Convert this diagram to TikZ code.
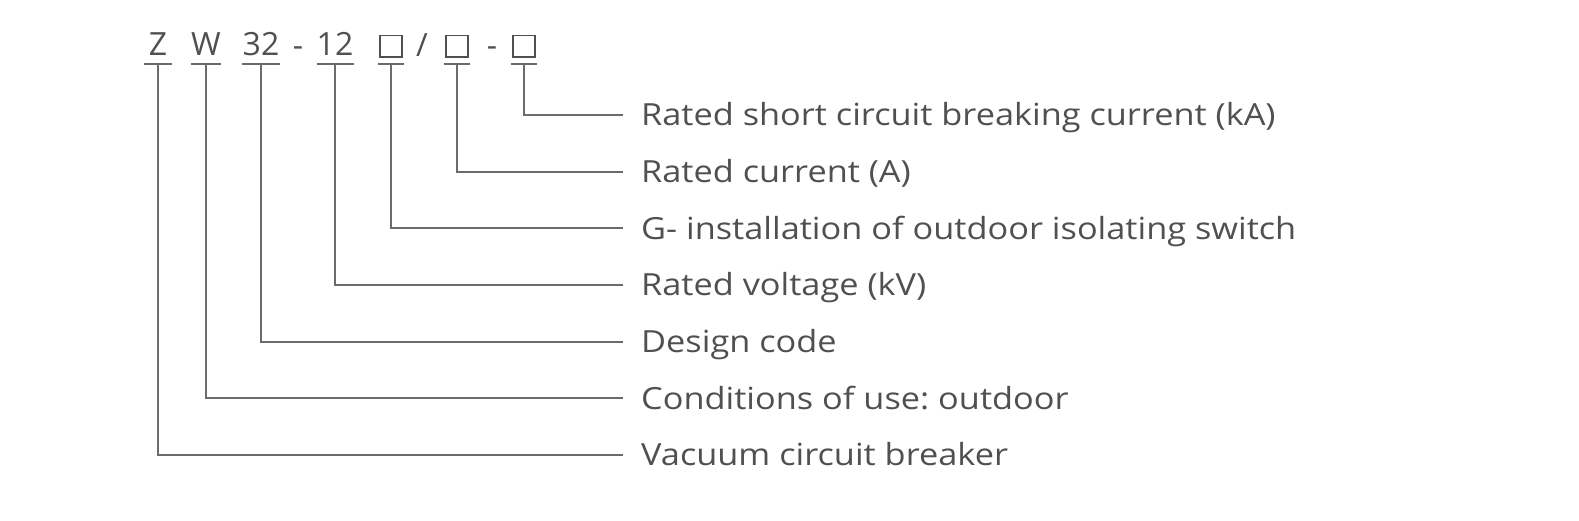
\documentclass[tikz,border=0pt]{standalone}
\usepackage{fontspec}
\setmainfont{Open Sans}
\newfontfamily\labelfont[FakeStretch=1.125]{Open Sans}
\usepackage{tikz}
\usetikzlibrary{positioning}
\definecolor{mtext}{HTML}{505050}
\definecolor{mline}{HTML}{6B6B6B}
\newcommand{\slotbox}{{\setlength{\fboxsep}{0pt}\setlength{\fboxrule}{1.8pt}\fbox{\rule{0pt}{19.5pt}\hspace{20.5pt}}}}
\tikzstyle{code} = [font=\fontsize{32}{32}\selectfont, text=mtext, text height=23pt, text depth=0pt, inner ysep=8pt, inner xsep=0pt, anchor=south]
\tikzstyle{sep} = [font=\fontsize{32}{32}\selectfont, text=mtext, inner sep=0pt, anchor=base]
\tikzstyle{meaning} = [font=\labelfont\fontsize{30.5}{31}\selectfont\frenchspacing, text=mtext, text height=21.7pt, text depth=0pt, inner ysep=0pt, inner xsep=18pt, anchor=west]
\tikzstyle{lead} = [draw=mline, line width=1.8pt]
\begin{document}
\begin{tikzpicture}[x=1pt, y=-1pt]
  \useasboundingbox (0,0) rectangle (1579,520);
  % model code
  \node (z) [code, minimum width=27pt] at (158,64) {Z};
  \node (w) [code, minimum width=26pt] at (206,64) {W};
  \node (n32) [code, minimum width=37pt] at (261,64) {32};
  \node (d1) [sep] at (298,56) {-};
  \node (n12) [code, minimum width=36pt] at (335,64) {12};
  \node (g) [code, minimum width=26pt] at (391,64) {\slotbox};
  \node (sl) [sep] at (422,56) {/};
  \node (a) [code, minimum width=26pt] at (457,64) {\slotbox};
  \node (d2) [sep] at (492,56) {-};
  \node (ka) [code, minimum width=26pt] at (524,64) {\slotbox};
  % meanings
  \node (lka) [meaning] at (623,115) {Rated short circuit breaking current (kA)};
  \node (la) [meaning] at (623,171.7) {Rated current (A)};
  \node (lg) [meaning] at (623,228.3) {G- installation of outdoor isolating switch};
  \node (l12) [meaning] at (623,285) {Rated voltage (kV)};
  \node (l32) [meaning] at (623,341.7) {Design code};
  \node (lw) [meaning] at (623,398.3) {Conditions of use: outdoor};
  \node (lz) [meaning] at (623,455) {Vacuum circuit breaker};
  % underlines
  \draw [lead] (z.south west) -- (z.south east);
  \draw [lead] (w.south west) -- (w.south east);
  \draw [lead] (n32.south west) -- (n32.south east);
  \draw [lead] (n12.south west) -- (n12.south east);
  \draw [lead] (g.south west) -- (g.south east);
  \draw [lead] (a.south west) -- (a.south east);
  \draw [lead] (ka.south west) -- (ka.south east);
  % leaders
  \draw [lead] (ka.south) |- (lka.west);
  \draw [lead] (a.south) |- (la.west);
  \draw [lead] (g.south) |- (lg.west);
  \draw [lead] (n12.south) |- (l12.west);
  \draw [lead] (n32.south) |- (l32.west);
  \draw [lead] (w.south) |- (lw.west);
  \draw [lead] (z.south) |- (lz.west);
\end{tikzpicture}
\end{document}
